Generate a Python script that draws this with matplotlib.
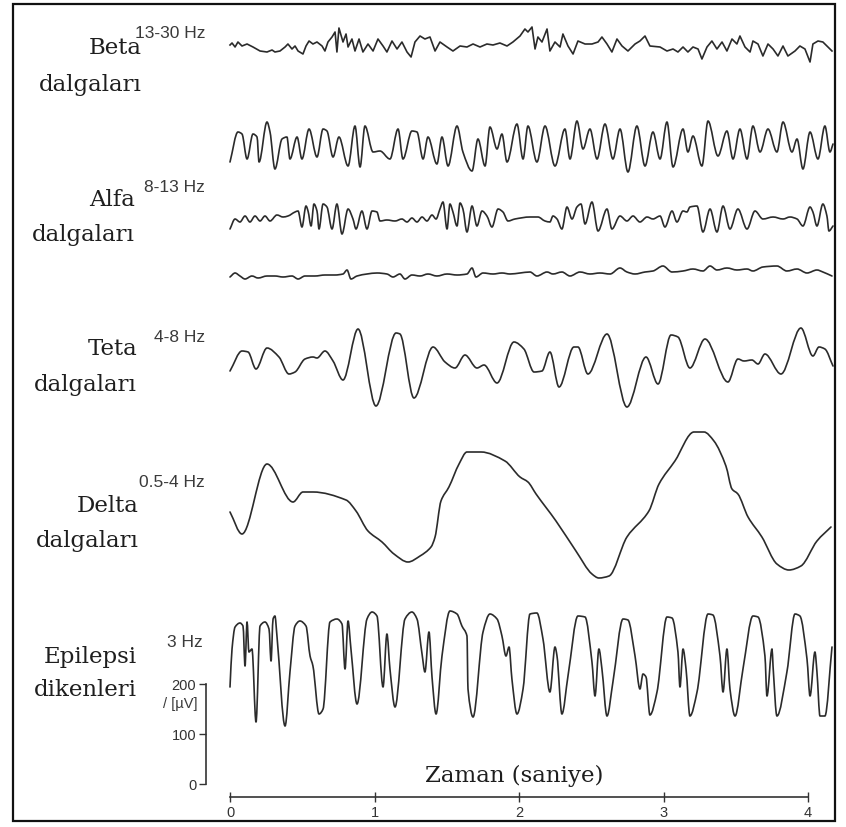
import matplotlib
matplotlib.use("Agg")
import numpy as np
import matplotlib.pyplot as plt
from matplotlib.patches import Rectangle, PathPatch
from matplotlib.path import Path

# ---- traces: time in ms, amplitude in uV (relative to each row) ----
beta_t = [0, 14, 35, 55, 83, 118, 159, 208, 256, 291, 311, 346, 381, 401, 429, 450, 471, 505, 526, 547,
          574, 602, 637, 657, 678, 706, 727, 740, 754, 782, 803, 817, 844, 865, 893, 920, 955, 990, 1024,
          1059, 1086, 1121, 1156, 1190, 1225, 1253, 1280, 1315, 1349, 1384, 1419, 1453, 1502, 1543, 1592,
          1640, 1682, 1730, 1778, 1820, 1868, 1917, 1958, 2007, 2041, 2062, 2090, 2111, 2131, 2159, 2194,
          2214, 2249, 2284, 2304, 2339, 2374, 2408, 2457, 2505, 2547, 2574, 2609, 2643, 2678, 2713, 2754,
          2803, 2837, 2872, 2906, 2976, 3024, 3066, 3100, 3135, 3169, 3204, 3239, 3266, 3301, 3335, 3370,
          3405, 3439, 3474, 3508, 3529, 3564, 3599, 3619, 3654, 3688, 3723, 3758, 3792, 3827, 3861, 3910,
          3944, 3979, 4014, 4034, 4069, 4103, 4138, 4166]
beta_v = [-2, 2, -6, 4, -4, 0, -6, -14, -16, -12, -16, -14, -6, 0, -10, -4, -14, -20, -4, 6,
          0, 4, -4, -14, 4, 14, 24, -16, 32, 4, 20, -6, 10, -14, 10, -16, 0, -14, 10,
          -4, -16, 6, -10, 4, -16, -26, 4, 16, 10, 14, -14, 4, -6, -14, -4,
          -6, 0, -6, 0, -2, 2, -4, 4, 16, 30, 24, 34, -10, 14, 4, 30,
          -14, 4, -6, 20, -4, -20, 6, 0, 0, 4, 14, 0, -16, 10, -4, -14,
          0, 6, 16, -4, -6, -14, -10, -16, -6, -16, -6, -10, -30, -6, 6, -10,
          4, -14, 10, 0, 16, -6, -16, 6, 0, -24, 0, -10, -24, -4, -24, -14,
          -4, -10, -36, 0, 6, 4, -6, -14]

alfa1_t = [0, 55, 83, 118, 159, 187, 201, 256, 277, 311, 360, 394, 415, 464, 498, 547, 602, 644, 671, 713,
           754, 817, 865, 900, 934, 990, 1038, 1107, 1163, 1197, 1259, 1294, 1336, 1370, 1432, 1467, 1509,
           1571, 1612, 1675, 1716, 1765, 1799, 1848, 1882, 1917, 1986, 2028, 2062, 2124, 2180, 2249, 2318,
           2353, 2401, 2443, 2491, 2540, 2595, 2650, 2699, 2754, 2816, 2872, 2927, 2976, 3024, 3066, 3135,
           3169, 3204, 3266, 3308, 3377, 3439, 3481, 3529, 3578, 3619, 3668, 3723, 3785, 3827, 3889, 3924,
           3965, 4014, 4069, 4117, 4152, 4173]
alfa1_v = [-30, 30, 26, -24, 26, 20, -30, 50, 30, -44, 16, 20, -24, 20, -24, 36, -20, 36, 32, -20,
           20, -38, 42, -40, 42, -10, -8, -24, 36, -24, 32, 30, -24, 20, -34, 20, -38,
           42, -10, -48, 16, -38, 40, -4, 26, -30, 46, -24, 42, -30, 42, -38, 36,
           -24, 52, -4, 36, -24, 46, -24, 36, -50, 42, -38, 30, -24, 50, -40, 36,
           -10, 22, -38, 52, -18, 32, -24, 36, -24, 42, -10, 36, -10, 50, -10, 16,
           -44, 30, -24, 42, -10, 6]

alfa2_t = [0, 35, 69, 104, 138, 173, 208, 242, 277, 325, 367, 401, 450, 471, 498, 526, 540, 561, 581, 602,
           616, 644, 671, 706, 740, 775, 817, 851, 872, 913, 948, 983, 1017, 1038, 1086, 1142, 1190, 1225,
           1259, 1294, 1329, 1363, 1398, 1426, 1453, 1474, 1502, 1522, 1543, 1571, 1592, 1612, 1640, 1675,
           1709, 1744, 1778, 1813, 1855, 1889, 1924, 1972, 2076, 2131, 2180, 2214, 2235, 2263, 2297, 2332,
           2367, 2401, 2429, 2457, 2505, 2547, 2609, 2643, 2699, 2747, 2789, 2837, 2886, 2927, 2976, 3010,
           3059, 3093, 3135, 3162, 3183, 3232, 3273, 3322, 3370, 3412, 3460, 3515, 3578, 3633, 3688, 3758,
           3827, 3875, 3924, 3965, 4014, 4034, 4062, 4103, 4131, 4145, 4173]
alfa2_v = [-24, -4, -10, 2, -10, 2, -8, 2, -8, 4, 0, 2, 10, 12, -20, 22, 12, -18, 26, 12,
           -24, 26, 20, -24, 26, -34, 16, -4, -24, 12, -24, 12, 10, -8, -6, -8, -4, -10,
           -2, -10, 0, -8, 4, -4, 16, 30, -24, 26, 10, -18, 28, 16, -30, 22,
           -18, 12, 2, -20, 16, 10, -8, -4, 0, 0, -8, -10, 2, -4, -24, 20,
           -4, 20, 26, -14, 30, -28, 16, -24, 2, -8, 2, -10, 0, -4, 2, -20,
           12, -10, 12, 10, 20, 22, -30, 16, -30, 22, -24, 16, -24, 12, -4, 0,
           -4, 0, -4, -18, 20, 10, -18, 26, 2, -28, -18]

alfa3_t = [0, 35, 69, 104, 152, 194, 256, 311, 367, 429, 471, 519, 588, 657, 727, 782, 810, 837, 879, 948,
           1017, 1086, 1128, 1176, 1211, 1259, 1315, 1370, 1432, 1502, 1571, 1640, 1675, 1702, 1751, 1820,
           1882, 1938, 2007, 2076, 2124, 2194, 2235, 2297, 2353, 2422, 2491, 2560, 2630, 2699, 2747, 2803,
           2872, 2927, 2996, 3059, 3135, 3204, 3273, 3322, 3370, 3439, 3508, 3578, 3619, 3688, 3785, 3854,
           3924, 3993, 4062, 4103, 4166]
alfa3_v = [-10, -2, -8, -14, -8, -12, -8, -8, -10, -8, -14, -8, -8, -6, -6, -4, 4, -14, -8, -4,
           -2, -4, -10, -4, -14, -6, -8, -4, -8, -4, -6, -4, 8, -10, -2, -4,
           -2, -4, -2, 0, -8, 0, -4, 0, -8, 0, -4, -2, -4, 8, 0, -4,
           0, 2, 12, 0, 2, 6, 2, 12, 4, 8, 4, 6, 2, 10, 12, 2,
           6, -2, 4, 0, -8]

teta_t = [0, 83, 125, 180, 256, 339, 408, 450, 519, 574, 602, 657, 713, 782, 886, 1010, 1149, 1176, 1273,
          1405, 1488, 1557, 1626, 1709, 1758, 1848, 1965, 2034, 2104, 2159, 2214, 2277, 2380, 2408, 2477,
          2609, 2747, 2879, 2962, 3052, 3100, 3183, 3287, 3446, 3515, 3557, 3612, 3654, 3702, 3813, 3951,
          4034, 4076, 4117, 4173]
teta_v = [-34, 6, 4, -30, 12, -6, -40, -36, -10, -6, -8, 6, -14, -52, 50, -104, 42, 40, -88,
          14, -16, -28, -2, -28, -22, -58, 24, 10, -36, -34, 4, -66, 14, 14, -40,
          40, -106, -6, -60, 38, 34, -28, 30, -56, -10, -14, -12, -20, 0, -40, 52,
          -4, 14, 10, -24]

delta_t = [0, 83, 256, 436, 505, 574, 803, 872, 955, 1052, 1135, 1232, 1315, 1391, 1419, 1460, 1515, 1585,
           1640, 1737, 1903, 2007, 2062, 2118, 2256, 2394, 2505, 2553, 2623, 2747, 2899, 2969, 3079, 3211,
           3280, 3349, 3432, 3474, 3515, 3585, 3681, 3785, 3868, 3951, 4062, 4159]
delta_v = [-16, -60, 80, 4, 24, 24, 8, -14, -54, -76, -100, -116, -104, -86, -66, 6, 34, 80,
           104, 104, 86, 54, 44, 20, -34, -94, -140, -148, -144, -66, -14, 40, 86, 144,
           144, 126, 76, 30, 20, -26, -66, -120, -132, -124, -74, -46]

# epilepsy spikes in absolute uV (matches the scale bar)
epi_t = [0, 14, 35, 69, 90, 104, 118, 131, 152, 180, 208, 242, 270, 284, 298, 311, 325, 381, 415, 450,
         484, 526, 554, 574, 616, 644, 692, 740, 775, 796, 817, 837, 879, 948, 983, 1017, 1059, 1086,
         1107, 1142, 1211, 1259, 1294, 1329, 1349, 1377, 1398, 1426, 1467, 1522, 1571, 1605, 1640, 1647,
         1682, 1751, 1799, 1848, 1882, 1910, 1931, 1951, 1986, 2028, 2076, 2124, 2166, 2214, 2249, 2263,
         2297, 2339, 2408, 2457, 2505, 2526, 2553, 2574, 2609, 2650, 2720, 2754, 2803, 2837, 2858, 2879,
         2906, 2955, 3024, 3059, 3100, 3114, 3135, 3156, 3183, 3232, 3308, 3342, 3391, 3412, 3439, 3460,
         3495, 3550, 3619, 3654, 3702, 3716, 3751, 3758, 3785, 3854, 3910, 3944, 3993, 4014, 4048, 4062,
         4083, 4117, 4166]
epi_v = [194, 270, 314, 322, 316, 236, 324, 264, 270, 124, 316, 324, 310, 246, 330, 336, 296, 116, 224, 316,
         326, 316, 256, 236, 140, 150, 324, 330, 320, 230, 326, 270, 160, 330, 344, 336, 194, 300,
         230, 154, 330, 344, 330, 260, 224, 304, 214, 140, 256, 346, 340, 316, 296, 190,
         134, 304, 340, 330, 296, 256, 274, 210, 140, 190, 340, 342, 290, 184, 274, 256,
         140, 216, 336, 334, 244, 176, 270, 230, 136, 204, 330, 328, 256, 190, 220, 214,
         138, 184, 334, 332, 264, 194, 270, 230, 136, 184, 340, 338, 256, 184, 270, 190,
         136, 230, 336, 334, 256, 176, 270, 236, 136, 224, 340, 336, 250, 176, 264, 224,
         136, 136, 274]

names = [("Beta", "dalgaları"), ("Alfa", "dalgaları"), ("Teta", "dalgaları"),
         ("Delta", "dalgaları"), ("Epilepsi", "dikenleri")]
bands = ["13-30 Hz", "8-13 Hz", "4-8 Hz", "0.5-4 Hz", "3 Hz"]
time_ticks = [0, 1, 2, 3, 4]
uv_ticks = [0, 100, 200]

# ---- figure setup: one axes over the whole canvas ----
W, H = 846, 828
fig = plt.figure(figsize=(W / 100, H / 100), dpi=100)
ax = fig.add_axes([0, 0, 1, 1])
ax.set_facecolor("white")

x0px, pps = 230, 144.5       # pixel of t=0, pixels per second
y0px, uvpp = 785, 2.0        # pixel of 0 uV, uV per pixel
ax.set_xlim(-x0px / pps, (W - x0px) / pps)
ax.set_ylim((y0px - H) * uvpp, y0px * uvpp)


def px2uv(ypx):
    return (y0px - ypx) * uvpp


def smooth_path(t, v):
    # draw the read points as a smooth pen stroke (monotone cubic bezier segments)
    x = np.asarray(t, float)
    y = np.asarray(v, float)
    h = np.diff(x)
    d = np.diff(y) / h
    m = np.zeros_like(y)
    m[0], m[-1] = d[0], d[-1]
    for i in range(1, len(y) - 1):
        if d[i - 1] * d[i] > 0:
            m[i] = 2.0 / (1.0 / d[i - 1] + 1.0 / d[i])
    verts = [(x[0], y[0])]
    codes = [Path.MOVETO]
    for i in range(len(h)):
        verts += [(x[i] + h[i] / 3, y[i] + m[i] * h[i] / 3),
                  (x[i + 1] - h[i] / 3, y[i + 1] - m[i + 1] * h[i] / 3),
                  (x[i + 1], y[i + 1])]
        codes += [Path.CURVE4] * 3
    return Path(verts, codes)


col = "#2b2b2b"
lw = 1.2
# beta: jagged, straight segments
ax.plot(np.array(beta_t) / 1000.0, np.array(beta_v) + px2uv(45), color=col, lw=lw)

rows = [
    (alfa1_t, alfa1_v, 148),
    (alfa2_t, alfa2_v, 218),
    (alfa3_t, alfa3_v, 273),
    (teta_t, teta_v, 355),
    (delta_t, delta_v, 505),
    (epi_t, epi_v, None),
]
for t, v, base in rows:
    off = 0 if base is None else px2uv(base)
    p = smooth_path(np.array(t) / 1000.0, np.array(v) + off)
    ax.add_patch(PathPatch(p, fill=False, ec=col, lw=lw, joinstyle="round", capstyle="round"))

# axes: time axis at bottom, uV scale bar at left
for s in ["top", "right"]:
    ax.spines[s].set_visible(False)
ax.spines["bottom"].set_position(("data", px2uv(798)))
ax.spines["bottom"].set_bounds(0, 4)
ax.spines["left"].set_position(("data", (206 - x0px) / pps))
ax.spines["left"].set_bounds(0, 200)
for s in ["bottom", "left"]:
    ax.spines[s].set_color("#333333")
    ax.spines[s].set_linewidth(1.2)
ax.set_xticks(time_ticks)
ax.set_xticklabels([str(v) for v in time_ticks])
ax.set_yticks(uv_ticks)
ax.set_yticklabels([str(v) for v in uv_ticks])
ax.tick_params(axis="x", direction="inout", length=7, width=1.0, colors="#333333",
               labelsize=10.5, pad=2)
ax.tick_params(axis="y", direction="out", length=5, width=1.0, colors="#333333",
               labelsize=10.5, pad=2)
for lab in ax.get_xticklabels() + ax.get_yticklabels():
    lab.set_family("Liberation Sans")


def ftext(xp, yp, s, **kw):
    fig.text(xp / W, 1 - yp / H, s, **kw)


serif = dict(family="DejaVu Serif", fontsize=16.5, color="#1e1e1e", ha="right", va="center")
sans = dict(family="Liberation Sans", fontsize=12.5, color="#3a3a3a", va="center")

label_pos = [(142, 48, 85), (135, 200, 235), (137, 349, 385), (139, 506, 541), (137, 657, 690)]
band_pos = [(205, 33), (205, 188), (205, 337), (205, 483), (203, 643)]
for (l1, l2), (xp, y1, y2) in zip(names, label_pos):
    ftext(xp, y1, l1, **serif)
    ftext(xp, y2, l2, **serif)
for band, (xp, yp) in zip(bands, band_pos):
    ftext(xp, yp, band, ha="right", **sans)

ftext(197, 704, "/ [µV]", ha="right", family="Liberation Sans", fontsize=10.5,
      color="#3a3a3a", va="center")
ftext(514, 776, "Zaman (saniye)", family="DejaVu Serif", fontsize=16.5, color="#1e1e1e",
      ha="center", va="center")

fig.patches.append(Rectangle((13 / W, 1 - 822 / H), (835 - 13) / W, (822 - 5) / H,
                             transform=fig.transFigure, fill=False, lw=1.6, ec="#111111"))

fig.savefig("out.png", dpi=100)
